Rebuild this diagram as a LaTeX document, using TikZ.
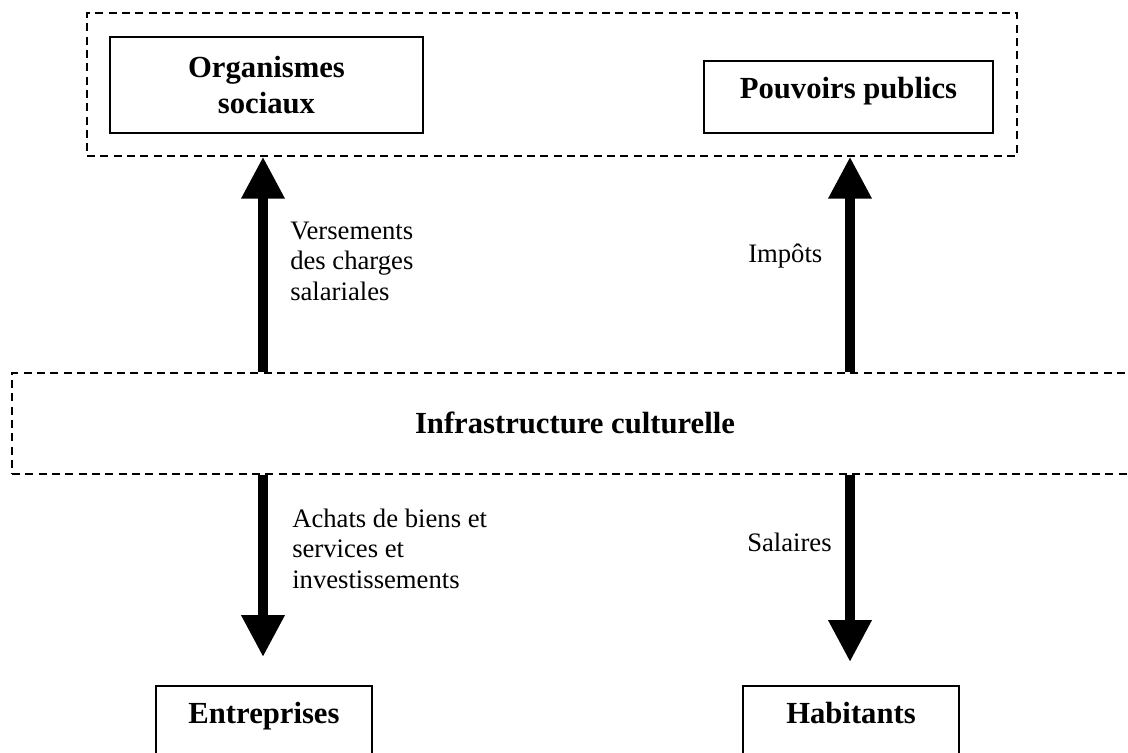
\documentclass[tikz,border=0pt]{standalone}
\usepackage{fontspec}
\setmainfont{Liberation Serif}
\usetikzlibrary{arrows.meta}
\begin{document}
\begin{tikzpicture}[x=0.75pt,y=-0.75pt,
  groupbox/.style={draw, line width=1.1pt, dash pattern=on 6pt off 4pt, inner sep=0pt},
  actor/.style={draw, line width=1.3pt, font=\fontsize{23}{26.5}\selectfont\bfseries, align=center, inner sep=0pt},
  flowlabel/.style={font=\fontsize{20}{23}\selectfont, align=left, inner sep=0pt},
  flow/.style={line width=7.5pt, -{Triangle[width=30.75pt,length=31.5pt]}}]
\useasboundingbox (0,0) rectangle (1128,753);
\clip (0,0) rectangle (1128,753);
\fill[white] (0,0) rectangle (1128,753);

% receiving side: social bodies and public authorities
\node[groupbox, minimum width=697.5pt, minimum height=107.25pt] (tiers) at (552,84.5) {};
\node[actor, minimum width=234.75pt, minimum height=72pt] (org) at (266.5,85) {Organismes\\sociaux};
\node[actor, minimum width=216.75pt, minimum height=54pt, text height=12pt, text depth=10.5pt] (pouv) at (848.5,97) {Pouvoirs publics};

% central infrastructure band
\node[groupbox, minimum width=844.5pt, minimum height=75.75pt,
      font=\fontsize{23}{26.5}\selectfont\bfseries, text depth=1.5pt] (infra) at (575,423.5) {Infrastructure culturelle};

% beneficiaries at the bottom
\node[actor, anchor=north, minimum width=162pt, inner ysep=12.75pt, text height=15.75pt, text depth=22.5pt] (entr) at (264,685) {Entreprises};
\node[actor, anchor=north, minimum width=162pt, inner ysep=12.75pt, text height=15.75pt, text depth=22.5pt] (hab) at (851,685) {Habitants};

% flow columns
\coordinate (colL) at (263,0);
\coordinate (colR) at (850,0);

\draw[flow] (infra.north -| colL) -- (tiers.south -| colL);
\draw[flow] (infra.north -| colR) -- (tiers.south -| colR);
\draw[flow, shorten >=21pt] (infra.south -| colL) -- (entr.north -| colL);
\draw[flow, shorten >=17.25pt] (infra.south -| colR) -- (hab.north -| colR);

% flow labels (base anchor = baseline of the last line)
\node[flowlabel, anchor=base west] (lvers) at (290,300.5) {Versements\\des charges\\salariales};
\node[flowlabel, anchor=base west] (limp) at (748,262) {Impôts};
\node[flowlabel, anchor=base west] (lach) at (292,588.5) {Achats de biens et\\services et\\investissements};
\node[flowlabel, anchor=base west] (lsal) at (747,551) {Salaires};
\end{tikzpicture}
\end{document}
